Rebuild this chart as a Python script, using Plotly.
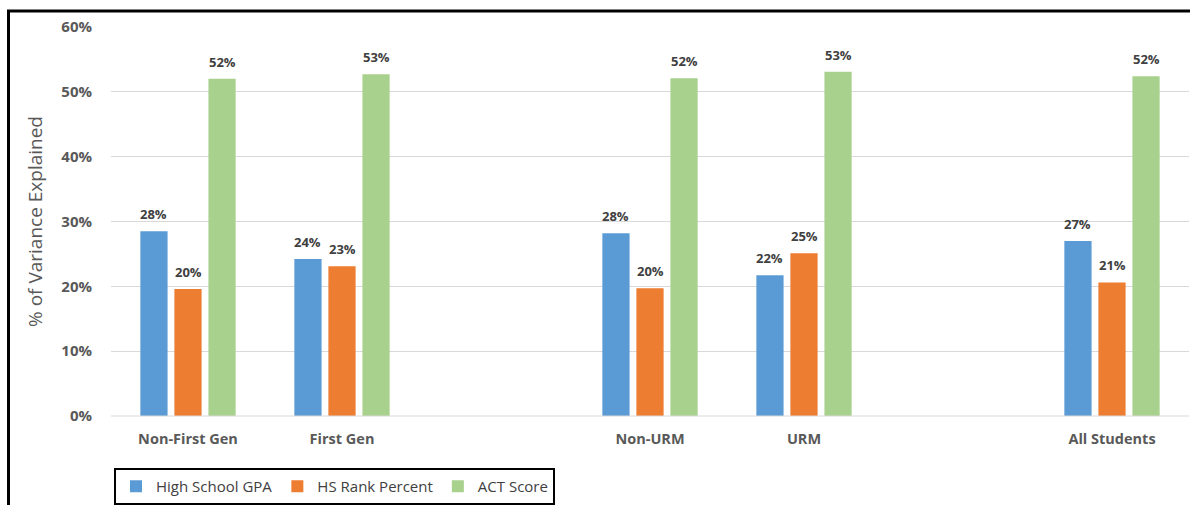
import plotly.graph_objects as go

categories = ["Non-First Gen", "First Gen", "Non-URM", "URM", "All Students"]
cat_pos = [0, 1, 3, 4, 6]
series_names = ["High School GPA", "HS Rank Percent", "ACT Score"]
gpa = [0.285, 0.242, 0.282, 0.217, 0.270]
rank = [0.196, 0.231, 0.197, 0.251, 0.206]
act = [0.520, 0.527, 0.521, 0.531, 0.524]
labels_gpa = ["28%", "24%", "28%", "22%", "27%"]
labels_rank = ["20%", "23%", "20%", "25%", "21%"]
labels_act = ["52%", "53%", "52%", "53%", "52%"]
y_ticks = [0, 0.1, 0.2, 0.3, 0.4, 0.5, 0.6]
y_tick_text = ["0%", "10%", "20%", "30%", "40%", "50%", "60%"]

colors = ["#5B9BD5", "#ED7D31", "#A9D18E"]
FONT = "Open Sans"
LABEL_COLOR = "#404040"
AXIS_COLOR = "#595959"

bargap = 0.337
slot = (1 - bargap) / 3
offsets = [-slot, 0, slot]

fig = go.Figure()
all_vals = [gpa, rank, act]
all_labels = [labels_gpa, labels_rank, labels_act]
for name, vals, col in zip(series_names, all_vals, colors):
    fig.add_trace(go.Bar(x=cat_pos, y=vals, name=name, marker=dict(color=col, line=dict(width=0))))

annotations = []
for vals, labs, off in zip(all_vals, all_labels, offsets):
    for xp, v, t in zip(cat_pos, vals, labs):
        annotations.append(dict(x=xp + off, y=v, xref="x", yref="y", text=t, showarrow=False,
                                yanchor="bottom", yshift=6,
                                font=dict(family=FONT, size=13, color=LABEL_COLOR, weight="bold")))

W, H = 1190, 505
L, R, T, B = 111, 1, 27, 89
pw, ph = W - L - R, H - T - B

def px_x(p):
    return (p - L) / pw

def px_y(p):
    return (H - B - p) / ph

fig.update_layout(
    width=W, height=H,
    margin=dict(l=L, r=R, t=T, b=B, pad=0, autoexpand=False),
    paper_bgcolor="white", plot_bgcolor="white",
    barmode="group", bargap=bargap, bargroupgap=0.2,
    font=dict(family=FONT, color=AXIS_COLOR),
    annotations=annotations,
    showlegend=True,
    legend=dict(orientation="h", x=px_x(114), y=px_y(468), xanchor="left", yanchor="top",
                bordercolor="#000000", borderwidth=2, bgcolor="white",
                font=dict(family=FONT, size=15, color="#404040"),
                traceorder="normal", itemwidth=30),
    xaxis=dict(range=[-0.5, 6.5], tickmode="array", tickvals=cat_pos, ticktext=categories,
               showgrid=False, zeroline=False, showline=False, ticks="", ticklabelstandoff=12,
               automargin=False,
               tickfont=dict(family=FONT, size=14.5, color=AXIS_COLOR, weight="bold")),
    yaxis=dict(range=[0, 0.6], tickmode="array", tickvals=y_ticks, ticktext=y_tick_text,
               showgrid=True, gridcolor="#D9D9D9", gridwidth=1, zeroline=False,
               showline=False, ticks="", ticklabelstandoff=18, automargin=False,
               tickfont=dict(family=FONT, size=15, color=AXIS_COLOR, weight="bold"),
               title=dict(text="% of Variance Explained", standoff=13,
                          font=dict(family=FONT, size=19, color=AXIS_COLOR))),
    shapes=[dict(type="line", xref="paper", yref="paper", x0=0, x1=1, y0=0, y1=0,
                 line=dict(color="#D9D9D9", width=1)),
            dict(type="path", xref="paper", yref="paper",
                 path=f"M {px_x(8.5)} {px_y(520)} L {px_x(8.5)} {px_y(11)} L {px_x(1200)} {px_y(11)}",
                 line=dict(color="#000000", width=3))],
)

fig.write_html("out.html")
